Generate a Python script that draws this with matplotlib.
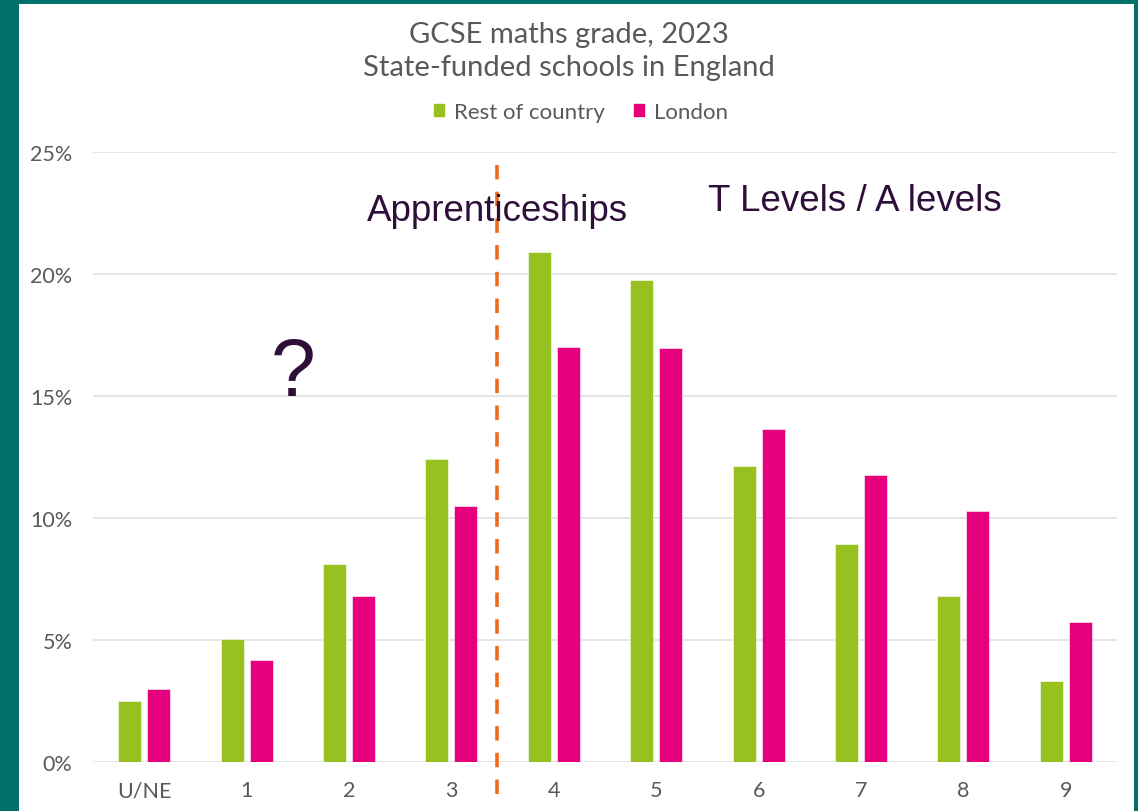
import matplotlib.pyplot as plt
import matplotlib.patches as mpatches
import numpy as np

# ---------------------------------------------------------
# DATA
# ---------------------------------------------------------
grades = ["U/NE", "1", "2", "3", "4", "5", "6", "7", "8", "9"]
rest_of_country = [2.5, 5.05, 8.1, 12.4, 20.9, 19.75, 12.15, 8.95, 6.8, 3.3]
london = [3.0, 4.2, 6.8, 10.5, 17.0, 16.95, 13.65, 11.75, 10.3, 5.75]
y_ticks = [0, 5, 10, 15, 20, 25]
series_names = ["Rest of country", "London"]

# colours
teal = "#00726B"
green = "#97C11F"
pink = "#E6007E"
orange = "#EE6B1E"
purple = "#2E0F3A"
grey_text = "#595959"

fig = plt.figure(figsize=(11.38, 8.12), dpi=100)
fig.patch.set_facecolor(teal)
# white panel inside the teal frame
fig.patches.append(mpatches.Rectangle((19 / 1138, 0), (1134 - 19) / 1138, (812 - 5) / 812,
                                      transform=fig.transFigure, facecolor="white",
                                      edgecolor="none", zorder=-5))

ax = fig.add_axes([93 / 1138, 49 / 812, 1024 / 1138, 610 / 812])
ax.set_zorder(2)
ax.set_facecolor("none")

x = np.arange(len(grades))
w = 0.225
off = 0.142
ax.bar(x - off, rest_of_country, width=w, color=green, edgecolor="white", linewidth=0.4, zorder=3)
ax.bar(x + off, london, width=w, color=pink, edgecolor="white", linewidth=0.4, zorder=3)

ax.set_xlim(-0.5, len(grades) - 0.5)
ax.set_ylim(0, 25)
ax.set_yticks(y_ticks)
ax.set_yticklabels([f"{t}%" for t in y_ticks])
ax.set_xticks(x)
ax.set_xticklabels(grades)
ax.tick_params(axis="both", length=0, labelsize=15.5, colors=grey_text, labelfontfamily="Lato")
ax.tick_params(axis="y", pad=15)
ax.tick_params(axis="x", pad=13)
ax.grid(axis="y", color="#E3E3E3", linewidth=1.3, zorder=0)
for s in ax.spines.values():
    s.set_visible(False)

# divider between grade 3 and 4
ax.plot([3.45, 3.45], [-1.3, 24.6], color=orange, linewidth=2.6, linestyle=(0, (4, 3.4)),
        clip_on=False, zorder=4)

# annotations
ax.text(3.45, 22.6, "Apprenticeships", ha="center", va="center", fontsize=26.5,
        color=purple, family="Liberation Sans", zorder=5)
ax.text(6.94, 23.0, "T Levels / A levels", ha="center", va="center", fontsize=26.5,
        color=purple, family="Liberation Sans", zorder=5)
ax.text(1.45, 15.9, "?", ha="center", va="center", fontsize=58,
        color=purple, family="Liberation Sans", zorder=5)

# title
fig.text(0.5, 1 - 35 / 812, "GCSE maths grade, 2023", ha="center", va="center",
         fontsize=21, color=grey_text, family="Lato")
fig.text(0.5, 1 - 68 / 812, "State-funded schools in England", ha="center", va="center",
         fontsize=21, color=grey_text, family="Lato")

handles = [mpatches.Patch(color=green, label=series_names[0]),
           mpatches.Patch(color=pink, label=series_names[1])]
fig.legend(handles=handles, loc="center", bbox_to_anchor=(581 / 1138, 1 - 113 / 812), ncol=2,
           frameon=False, prop={"family": "Lato", "size": 16}, labelcolor=grey_text,
           handlelength=0.45, handleheight=0.45, handletextpad=0.45, columnspacing=1.3)

fig.savefig("out.png", dpi=100, facecolor=fig.get_facecolor())
